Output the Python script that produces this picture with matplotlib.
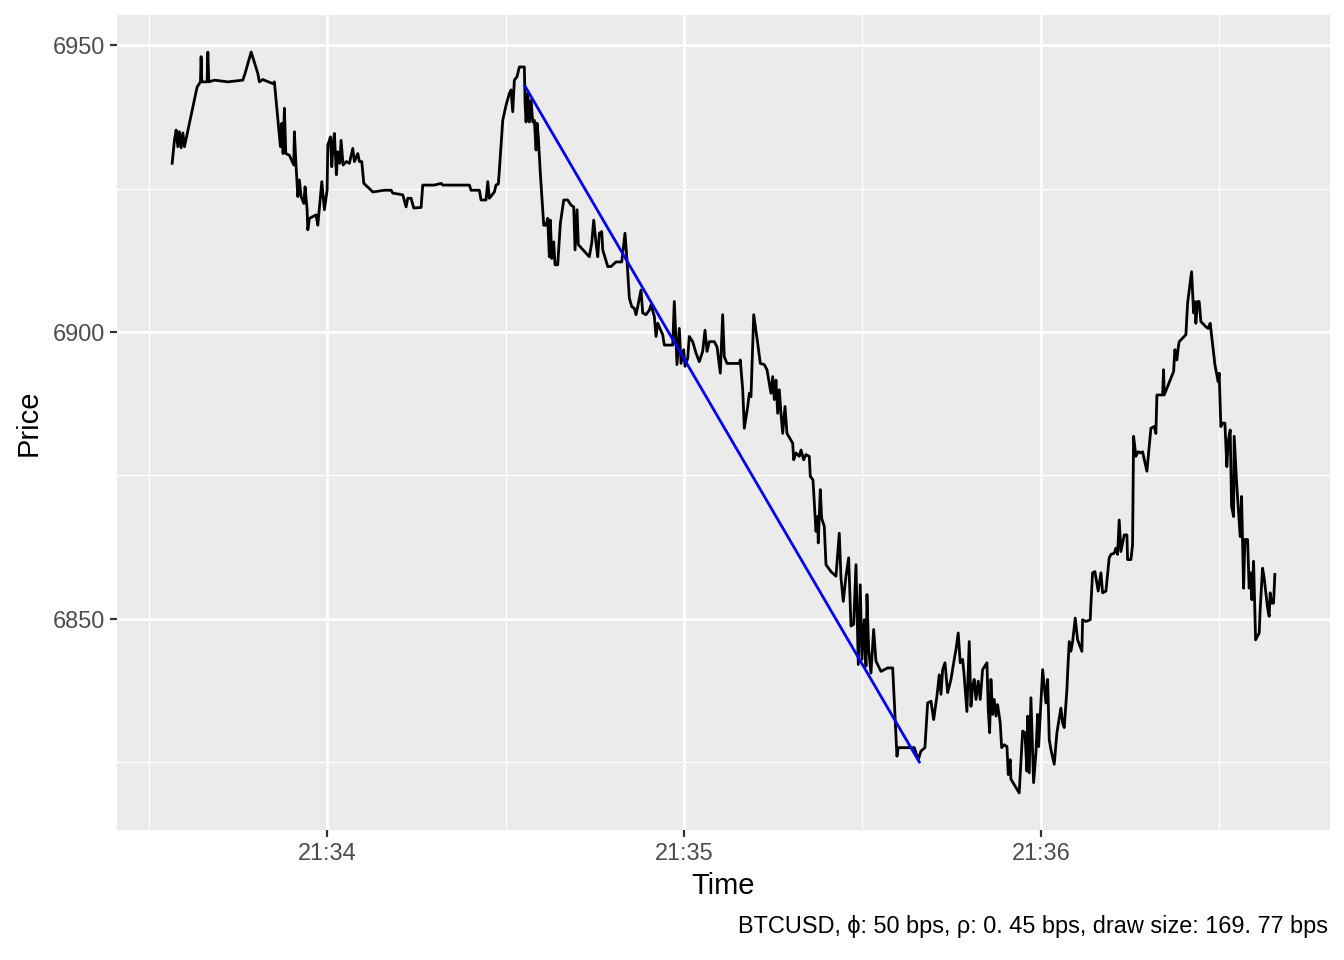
import pandas as pd
import matplotlib
matplotlib.use("Agg")
import matplotlib.pyplot as plt
import matplotlib.dates as mdates
from matplotlib.ticker import MultipleLocator

plt.rcParams['font.family'] = ['Liberation Sans', 'DejaVu Sans']

# seconds after 21:33:00
secs = [
    33.95, 34.34, 34.62, 34.91, 35.18, 35.46, 35.75, 36.02, 38.15, 38.71,
    38.82, 38.94, 39.83, 39.95, 40.12, 41.06, 43.31, 45.83, 46.22, 47.23,
    48.35, 48.62, 49.19, 50.87, 51.14, 52.15, 52.39, 52.60, 52.82, 53.06,
    53.66, 54.40, 54.50, 54.79, 55.08, 55.34, 55.63, 56.08, 56.30, 56.64,
    56.76, 57.03, 58.15, 58.44, 59.11, 59.55, 60.00, 60.12, 60.39, 60.55,
    60.79, 61.01, 61.23, 61.56, 61.80, 62.13, 62.35, 62.69, 63.24, 63.75,
    64.32, 64.59, 65.16, 65.43, 65.83, 66.17, 67.40, 67.68, 69.63, 70.76,
    71.04, 72.72, 73.28, 73.56, 74.12, 74.57, 75.80, 76.08, 78.03, 79.16,
    79.45, 83.92, 84.20, 85.60, 85.88, 86.72, 87.01, 87.28, 88.12, 88.40,
    88.79, 88.96, 89.53, 90.08, 90.64, 90.92, 91.21, 91.48, 91.93, 92.32,
    93.16, 93.28, 93.45, 93.73, 94.00, 94.29, 94.57, 94.84, 95.13, 95.29,
    95.51, 95.85, 96.42, 96.81, 97.09, 97.36, 97.53, 97.77, 98.10, 98.32,
    98.77, 99.21, 99.78, 100.45, 101.01, 101.46, 101.68, 102.02, 102.24, 104.08,
    104.49, 104.82, 105.21, 105.50, 105.77, 106.17, 106.34, 107.18, 107.73, 108.57,
    109.53, 110.08, 110.42, 110.81, 111.21, 111.65, 111.93, 112.22, 112.77, 113.06,
    113.61, 114.17, 114.45, 115.01, 115.30, 115.58, 116.42, 116.69, 118.10, 118.37,
    118.82, 119.21, 119.50, 119.95, 120.17, 120.62, 120.89, 121.46, 122.02, 122.57,
    123.14, 123.53, 123.87, 124.25, 125.09, 125.55, 126.10, 126.50, 126.77, 127.23,
    129.30, 129.46, 129.87, 130.14, 130.71, 130.98, 131.26, 131.72, 132.39, 132.83,
    133.50, 133.95, 134.62, 134.91, 135.18, 135.46, 135.75, 136.02, 136.30, 136.59,
    136.98, 137.31, 138.27, 138.44, 138.82, 139.38, 139.67, 140.12, 140.50, 141.06,
    141.23, 141.68, 142.19, 142.47, 142.57, 142.91, 143.14, 143.58, 143.87, 144.71,
    145.55, 146.10, 146.39, 146.78, 147.23, 147.68, 148.07, 148.52, 148.91, 149.30,
    149.63, 149.92, 150.31, 150.59, 150.76, 151.04, 151.43, 151.88, 152.27, 153.11,
    154.24, 155.08, 155.80, 156.02, 158.71, 159.38, 159.83, 160.50, 160.96, 161.52,
    161.97, 162.52, 162.91, 163.20, 163.48, 163.87, 164.32, 164.88, 165.43, 165.72,
    166.10, 166.44, 166.84, 167.11, 167.56, 167.95, 168.24, 168.52, 168.79, 169.08,
    169.46, 169.80, 170.20, 170.93, 171.15, 171.38, 171.60, 171.88, 172.15, 172.44,
    172.72, 173.16, 173.40, 173.83, 174.29, 174.51, 174.84, 174.96, 176.35, 176.93,
    177.31, 177.65, 177.77, 178.04, 178.32, 178.77, 179.16, 179.45, 179.62, 179.88,
    180.29, 180.56, 180.84, 181.13, 181.40, 181.68, 182.24, 182.69, 183.36, 183.65,
    183.92, 184.37, 184.49, 184.76, 185.04, 185.33, 185.77, 186.17, 186.89, 187.01,
    187.56, 188.29, 188.40, 188.69, 189.08, 189.63, 190.09, 190.37, 190.93, 191.48,
    191.77, 192.32, 192.61, 192.89, 193.16, 193.45, 193.73, 194.00, 194.46, 194.57,
    195.13, 195.41, 195.58, 195.97, 196.36, 196.81, 197.09, 197.82, 198.49, 199.04,
    199.33, 199.50, 200.46, 200.62, 200.73, 202.31, 202.52, 202.86, 203.08, 203.25,
    204.37, 204.66, 205.33, 205.67, 205.88, 206.05, 206.34, 206.61, 206.89, 207.73,
    208.12, 208.46, 209.25, 209.58, 209.80, 209.97, 210.25, 210.54, 210.93, 211.26,
    211.48, 211.82, 212.05, 212.39, 212.49, 212.94, 213.50, 213.73, 214.07, 214.29,
    214.74, 215.01, 215.29, 215.46, 215.75, 216.09, 216.70, 216.86, 217.26, 217.53,
    218.10, 218.37, 218.54, 218.78, 219.11, 219.33,
]

price = [
    6929.4, 6933.4, 6935.2, 6932.3, 6934.9, 6932.1, 6934.7, 6932.3, 6942.7, 6943.6,
    6948.0, 6943.6, 6943.6, 6948.8, 6943.6, 6943.9, 6943.6, 6943.9, 6945.1, 6948.8,
    6945.1, 6943.6, 6944.0, 6943.3, 6943.6, 6932.3, 6936.4, 6931.1, 6939.0, 6931.1,
    6930.8, 6929.1, 6934.9, 6928.8, 6923.6, 6926.5, 6923.6, 6922.4, 6925.3, 6921.3,
    6917.8, 6919.8, 6920.4, 6918.6, 6926.2, 6921.3, 6924.7, 6932.6, 6933.4, 6934.0,
    6928.8, 6932.9, 6934.6, 6927.4, 6931.4, 6929.4, 6933.4, 6929.1, 6929.7, 6929.4,
    6932.0, 6929.7, 6931.1, 6929.7, 6929.7, 6925.9, 6924.7, 6924.4, 6924.7, 6924.7,
    6924.2, 6923.9, 6921.8, 6923.3, 6923.3, 6921.6, 6921.7, 6925.6, 6925.6, 6925.9,
    6925.6, 6925.6, 6924.7, 6924.7, 6923.0, 6923.0, 6926.2, 6923.3, 6924.4, 6925.6,
    6925.8, 6928.2, 6936.9, 6939.5, 6941.6, 6942.2, 6938.4, 6943.9, 6944.5, 6946.2,
    6946.2, 6939.8, 6936.6, 6941.6, 6936.6, 6940.4, 6936.6, 6936.9, 6931.7, 6936.4,
    6934.0, 6927.6, 6918.6, 6918.6, 6919.8, 6913.1, 6919.5, 6912.8, 6915.7, 6911.7,
    6911.7, 6918.9, 6923.0, 6923.0, 6922.1, 6921.8, 6914.3, 6921.3, 6915.2, 6913.1,
    6915.5, 6919.5, 6915.5, 6913.1, 6917.2, 6917.5, 6914.3, 6911.4, 6911.4, 6912.2,
    6912.2, 6917.2, 6912.5, 6905.9, 6904.4, 6904.1, 6903.0, 6904.4, 6907.3, 6903.3,
    6903.0, 6903.8, 6904.7, 6902.7, 6899.2, 6901.5, 6899.5, 6897.7, 6897.7, 6905.3,
    6894.3, 6900.6, 6894.5, 6896.9, 6894.0, 6895.4, 6899.2, 6898.3, 6896.3, 6894.8,
    6896.6, 6900.3, 6896.6, 6898.3, 6898.3, 6897.4, 6892.8, 6903.0, 6895.7, 6894.5,
    6894.5, 6895.1, 6889.9, 6883.2, 6887.0, 6889.3, 6888.7, 6903.0, 6898.0, 6894.5,
    6894.3, 6893.4, 6889.3, 6892.2, 6888.2, 6891.6, 6885.8, 6889.9, 6885.8, 6882.3,
    6887.0, 6882.3, 6880.6, 6877.7, 6878.9, 6878.3, 6879.4, 6877.7, 6878.6, 6878.3,
    6874.8, 6874.2, 6865.2, 6867.8, 6863.2, 6872.5, 6867.5, 6866.1, 6859.4, 6858.2,
    6857.4, 6864.9, 6857.1, 6853.0, 6857.4, 6860.6, 6848.7, 6849.0, 6859.4, 6842.0,
    6855.9, 6842.9, 6849.8, 6841.7, 6854.2, 6844.6, 6840.5, 6848.1, 6842.6, 6840.8,
    6841.4, 6841.4, 6826.0, 6827.5, 6827.5, 6825.4, 6826.9, 6827.5, 6835.3, 6835.6,
    6832.4, 6836.5, 6840.2, 6836.8, 6841.1, 6842.3, 6837.1, 6839.4, 6842.9, 6844.6,
    6847.5, 6842.3, 6842.9, 6839.9, 6833.8, 6846.0, 6834.7, 6838.2, 6839.4, 6835.9,
    6839.1, 6835.9, 6841.1, 6842.3, 6834.1, 6830.1, 6839.4, 6833.3, 6835.9, 6833.0,
    6835.0, 6831.8, 6827.5, 6828.0, 6827.7, 6822.8, 6825.4, 6822.0, 6819.6, 6830.4,
    6830.1, 6823.4, 6833.0, 6823.1, 6836.2, 6821.4, 6826.6, 6833.3, 6827.7, 6833.0,
    6841.1, 6838.2, 6835.3, 6839.4, 6828.9, 6827.2, 6824.6, 6830.1, 6834.4, 6831.8,
    6831.0, 6837.6, 6840.5, 6846.0, 6844.3, 6846.0, 6850.1, 6846.3, 6844.3, 6849.8,
    6849.5, 6849.8, 6852.4, 6858.0, 6858.2, 6854.8, 6858.0, 6854.5, 6854.8, 6860.6,
    6861.2, 6861.4, 6862.3, 6861.2, 6867.2, 6861.7, 6863.2, 6864.6, 6864.6, 6860.3,
    6860.3, 6862.9, 6881.8, 6878.3, 6879.1, 6878.9, 6879.1, 6875.7, 6883.2, 6883.5,
    6882.3, 6889.0, 6889.0, 6893.4, 6889.0, 6893.1, 6896.9, 6895.1, 6897.2, 6898.3,
    6899.5, 6905.0, 6910.5, 6903.3, 6905.3, 6901.5, 6905.3, 6905.3, 6901.8, 6900.9,
    6900.6, 6901.5, 6894.3, 6892.5, 6891.3, 6892.8, 6883.5, 6884.1, 6884.1, 6876.5,
    6880.9, 6882.9, 6869.6, 6867.8, 6881.8, 6873.0, 6864.3, 6871.3, 6855.3, 6863.8,
    6863.8, 6855.3, 6858.0, 6853.3, 6860.0, 6846.3, 6847.5, 6851.6, 6858.8, 6857.1,
    6851.9, 6850.4, 6854.5, 6852.7, 6852.7, 6857.7,
]

# drawdown segment (peak -> trough)
draw_secs = [93.3, 159.55]
draw_price = [6942.8, 6825.0]

caption = "BTCUSD, \u03d5: 50 bps, \u03c1: 0. 45 bps, draw size: 169. 77 bps"

base = pd.Timestamp("2018-06-01 21:33:00")
t = (base + pd.to_timedelta(secs, unit="s")).to_pydatetime()
t_draw = (base + pd.to_timedelta(draw_secs, unit="s")).to_pydatetime()

fig = plt.figure(figsize=(13.44, 9.6), dpi=100)
ax = fig.add_axes([117 / 1344, 130 / 960, (1330 - 117) / 1344, 815 / 960])

ax.plot(t, price, color="black", lw=2.0)
ax.plot(t_draw, draw_price, color="blue", lw=2.0)
ax.margins(x=0.05, y=0.05)

# ggplot-ish look
ax.set_facecolor("#EBEBEB")
ax.set_axisbelow(True)
ax.grid(which="major", color="white", lw=1.9)
ax.grid(which="minor", color="white", lw=0.95)
for s in ax.spines.values():
    s.set_visible(False)

ax.xaxis.set_major_locator(mdates.MinuteLocator())
ax.xaxis.set_major_formatter(mdates.DateFormatter("%H:%M"))
ax.xaxis.set_minor_locator(mdates.SecondLocator(bysecond=[30]))
ax.yaxis.set_major_locator(MultipleLocator(50))
ax.yaxis.set_minor_locator(MultipleLocator(25))
ax.tick_params(which="major", length=5, width=1.6, color="#333333",
               labelcolor="#4D4D4D", labelsize=16.9, pad=4)
ax.tick_params(which="minor", length=0)

ax.set_xlabel("Time", fontsize=21, labelpad=5)
ax.set_ylabel("Price", fontsize=21, labelpad=7)
fig.text(1328 / 1344, 34 / 960, caption, ha="right", va="center", fontsize=16.9)

fig.savefig("out.png", dpi=100)
